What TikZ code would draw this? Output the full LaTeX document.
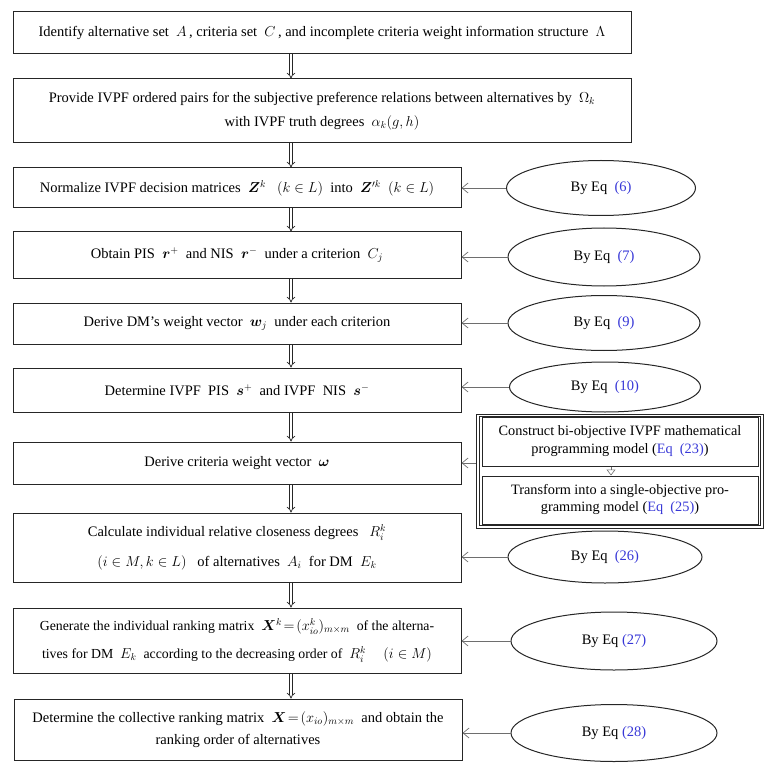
\documentclass[tikz,border=0pt]{standalone}
\usepackage{fontspec}
\setmainfont{Liberation Serif}
\usepackage{amsmath,bm}
\usetikzlibrary{arrows.meta,shapes.geometric}
\definecolor{eqblue}{RGB}{55,55,215}
\definecolor{lgray}{RGB}{110,110,110}
\newcommand{\eqn}[1]{\textcolor{eqblue}{(#1)}}
\begin{document}
\begin{tikzpicture}[x=1pt,y=-1pt,
 every node/.style={font=\fontsize{14.5}{17}\selectfont},
 stepbox/.style={draw=black!85, line width=1pt, inner sep=0pt, align=center},
 eqell/.style={draw=black!85, line width=1pt, ellipse, inner sep=0pt, font=\fontsize{14.5}{17}\selectfont},
 frame/.style={draw=black!85, line width=0.8pt, inner sep=0pt},
 dar/.style={double=white, draw=black!85, line width=0.7pt, double distance=2.2pt, -{Implies}},
 lar/.style={draw=lgray, line width=0.7pt, -{Straight Barb[length=6pt,width=10pt]}}
]
\useasboundingbox (0,0) rectangle (781,783);
\coordinate (ax) at (291,0);
\coordinate (ix) at (611,0);
% main steps
\node[stepbox, minimum width=618pt, minimum height=42pt] (b1) at (322,33)
 {Identify alternative set \ $A$\,, criteria set \ $C$\,, and incomplete criteria weight information structure \ $\Lambda$};
\node[stepbox, minimum width=618pt, minimum height=64pt, font=\fontsize{14.5}{24}\selectfont] (b2) at (322,111)
 {Provide IVPF ordered pairs for the subjective preference relations between alternatives by \ $\Omega_k$\\
  with IVPF truth degrees \ $\alpha_k(g,h)$};
\node[stepbox, minimum width=448pt, minimum height=40pt] (b3) at (237,188)
 {Normalize IVPF decision matrices \ $\bm{Z}^k$ \ \ $(k\in L)$ \ into \ $\bm{Z}'^k$ \ $(k\in L)$};
\node[stepbox, minimum width=448pt, minimum height=46pt] (b4) at (237,255)
 {Obtain PIS \ $\bm{r}^+$ \ and NIS \ $\bm{r}^-$ \ under a criterion \ $C_j$};
\node[stepbox, minimum width=448pt, minimum height=41pt] (b5) at (237,323.5)
 {Derive DM’s weight vector \ $\bm{w}_j$ \ under each criterion};
\node[stepbox, minimum width=448pt, minimum height=44pt] (b6) at (237,390)
 {Determine IVPF \ PIS \ $\bm{s}^+$ \ and IVPF \ NIS \ $\bm{s}^-$};
\node[stepbox, minimum width=448pt, minimum height=42pt] (b7) at (237,463)
 {Derive criteria weight vector \ $\bm{\omega}$};
\node[stepbox, minimum width=448pt, minimum height=69pt, font=\fontsize{14.5}{30}\selectfont] (b8) at (237,547.5)
 {Calculate individual relative closeness degrees \ \ $R_i^k$\\
  $(i\in M, k\in L)$ \ \ of alternatives \ $A_i$ \ for DM \ $E_k$};
\node[stepbox, minimum width=448pt, minimum height=65pt, font=\fontsize{13.8}{28}\selectfont] (b9) at (237,640.5)
 {Generate the individual ranking matrix \ $\bm{X}^k\!=\!(x_{io}^k)_{m\times m}$ \ of the alterna-\\
  tives for DM \ $E_k$ \ according to the decreasing order of \ $R_i^k$ \quad $(i\in M)$};
\node[stepbox, minimum width=448pt, minimum height=61pt, font=\fontsize{14.5}{22}\selectfont] (b10) at (238,729.5)
 {Determine the collective ranking matrix \ $\bm{X}\!=\!(x_{io})_{m\times m}$ \ and obtain the\\
  ranking order of alternatives};
% down arrows
\draw[dar] (b1.south -| ax) -- (b2.north -| ax);
\draw[dar] (b2.south -| ax) -- (b3.north -| ax);
\draw[dar] (b3.south -| ax) -- (b4.north -| ax);
\draw[dar] (b4.south -| ax) -- (b5.north -| ax);
\draw[dar] (b5.south -| ax) -- (b6.north -| ax);
\draw[dar] (b6.south -| ax) -- (b7.north -| ax);
\draw[dar] (b7.south -| ax) -- (b8.north -| ax);
\draw[dar] (b8.south -| ax) -- (b9.north -| ax);
\draw[dar] (b9.south -| ax) -- (b10.north -| ax);
% ellipses
\node[eqell, minimum width=189pt, minimum height=55pt] (e6) at (601,188) {By Eq \ \eqn{6}};
\node[eqell, minimum width=192pt, minimum height=58pt] (e7) at (604,257) {By Eq \ \eqn{7}};
\node[eqell, minimum width=192pt, minimum height=55pt] (e9) at (604,323) {By Eq \ \eqn{9}};
\node[eqell, minimum width=191pt, minimum height=50pt] (e10) at (605,387) {By Eq \ \eqn{10}};
\node[eqell, minimum width=194pt, minimum height=52pt] (e26) at (605,557) {By Eq \ \eqn{26}};
\node[eqell, minimum width=206pt, minimum height=58pt] (e27) at (614,641) {By Eq \eqn{27}};
\node[eqell, minimum width=206pt, minimum height=57pt] (e28) at (614,733) {By Eq \eqn{28}};
% double frame
\node[frame, minimum width=287pt, minimum height=114pt] (dbl) at (619.5,471) {};
\node[frame, minimum width=281pt, minimum height=109pt] (dbli) at (619.5,471) {};
\node[stepbox, minimum width=276pt, minimum height=49pt, font=\fontsize{14.3}{18}\selectfont] (i1) at (620,441.5)
 {Construct bi-objective IVPF mathematical\\ programming model (\textcolor{eqblue}{Eq \ (23)})};
\node[stepbox, minimum width=276pt, minimum height=48pt, font=\fontsize{14.3}{17}\selectfont] (i2) at (620,500)
 {Transform into a single-objective pro-\\ gramming model (\textcolor{eqblue}{Eq \ (25)})};
\draw[draw=lgray, line width=0.6pt, -{Triangle[open,length=6pt,width=9pt]}] (i1.south -| ix) -- (i2.north -| ix);
% side arrows
\draw[lar] (e6.west) -- (e6.west -| b3.east);
\draw[lar] (e7.west) -- (e7.west -| b4.east);
\draw[lar] (e9.west) -- (e9.west -| b5.east);
\draw[lar] (e10.west) -- (e10.west -| b6.east);
\draw[lar] (b7.east -| dbl.west) -- (b7.east);
\draw[lar] (e26.west) -- (e26.west -| b8.east);
\draw[lar] (e27.west) -- (e27.west -| b9.east);
\draw[lar] (e28.west) -- (e28.west -| b10.east);
\end{tikzpicture}
\end{document}
